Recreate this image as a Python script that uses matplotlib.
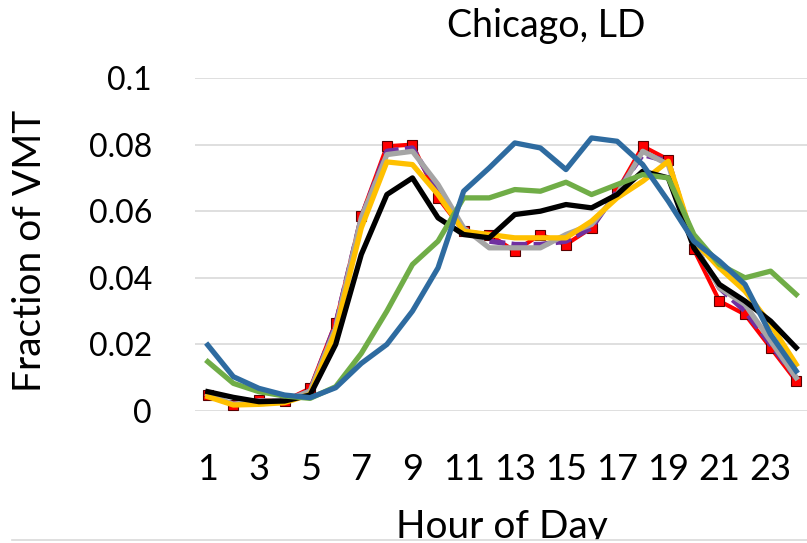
import matplotlib
matplotlib.use('Agg')
import matplotlib.pyplot as plt
from matplotlib.lines import Line2D
from matplotlib.patches import Rectangle

plt.rcParams['font.family'] = ['Lato', 'DejaVu Sans']

hours = list(range(1, 25))
xtick_labels = [str(h) for h in range(1, 24, 2)]
yticks = [0, 0.02, 0.04, 0.06, 0.08, 0.1]
ytick_labels = ['0', '0.02', '0.04', '0.06', '0.08', '0.1']

# fraction of VMT per hour
red = [0.0048, 0.0018, 0.0033, 0.003, 0.0068, 0.0265, 0.0585, 0.0795, 0.080, 0.064, 0.054, 0.053,
       0.048, 0.053, 0.050, 0.055, 0.066, 0.0795, 0.0755, 0.0485, 0.033, 0.029, 0.019, 0.009]
purple = [0.005, 0.002, 0.003, 0.003, 0.006, 0.026, 0.058, 0.078, 0.079, 0.066, 0.054, 0.051,
          0.050, 0.050, 0.051, 0.055, 0.066, 0.077, 0.075, 0.050, 0.037, 0.030, 0.020, 0.010]
gray = [0.005, 0.002, 0.003, 0.003, 0.006, 0.025, 0.058, 0.077, 0.078, 0.068, 0.055, 0.049,
        0.049, 0.049, 0.053, 0.056, 0.065, 0.078, 0.074, 0.050, 0.037, 0.032, 0.021, 0.010]
yellow = [0.0043, 0.0018, 0.002, 0.0025, 0.005, 0.024, 0.055, 0.0748, 0.074, 0.065, 0.054, 0.053,
          0.052, 0.052, 0.052, 0.057, 0.064, 0.069, 0.075, 0.051, 0.043, 0.036, 0.026, 0.014]
black = [0.0058, 0.0041, 0.0028, 0.003, 0.0048, 0.020, 0.047, 0.065, 0.070, 0.058, 0.053, 0.052,
         0.059, 0.060, 0.062, 0.061, 0.065, 0.072, 0.070, 0.049, 0.038, 0.033, 0.027, 0.019]
green = [0.0148, 0.0083, 0.0058, 0.0045, 0.0038, 0.0073, 0.0173, 0.030, 0.044, 0.051, 0.064, 0.064,
         0.0665, 0.066, 0.0687, 0.065, 0.068, 0.071, 0.070, 0.053, 0.044, 0.040, 0.042, 0.035]
blue = [0.0198, 0.0103, 0.0068, 0.0048, 0.004, 0.0070, 0.0143, 0.020, 0.030, 0.043, 0.066, 0.073,
        0.0805, 0.079, 0.0725, 0.082, 0.081, 0.074, 0.063, 0.051, 0.045, 0.038, 0.023, 0.012]

W, H = 807, 543
fig = plt.figure(figsize=(W / 100, H / 100), dpi=100)
ax = fig.add_axes([195 / W, 1 - 411 / H, 614 / W, 333 / H])

ax.plot(hours, red, color='#FF0000', lw=3.0, marker='s', ms=6.5,
        markerfacecolor='#FF0000', markeredgecolor='#5a0000', markeredgewidth=0.8, zorder=3)
ax.plot(hours, purple, color='#7030A0', lw=3.8, ls=(0, (3, 1.2)), zorder=4)
ax.plot(hours, gray, color='#A5A5A5', lw=3.8, zorder=5)
ax.plot(hours, yellow, color='#FFC000', lw=3.8, zorder=6)
ax.plot(hours, black, color='#000000', lw=3.8, zorder=7)
ax.plot(hours, green, color='#70AD47', lw=3.8, zorder=8)
ax.plot(hours, blue, color='#2E6BA0', lw=3.8, zorder=9)

ax.set_xlim(0.5, 24.5)
ax.set_ylim(0, 0.1)
ax.set_xticks(list(range(1, 24, 2)))
ax.set_xticklabels(xtick_labels)
ax.set_yticks(yticks)
ax.set_yticklabels(ytick_labels)
ax.tick_params(axis='both', length=0)
ax.tick_params(axis='y', pad=31, labelsize=23)
ax.tick_params(axis='x', pad=30, labelsize=26)
ax.grid(axis='y', color='#D9D9D9', lw=1.2, zorder=0)
for s in ax.spines.values():
    s.set_visible(False)
ax.set_axisbelow(True)

fig.text(546 / W, 1 - 26 / H, 'Chicago, LD', fontsize=27, ha='center', va='center')
fig.text(30 / W, 1 - 251 / H, 'Fraction of VMT', fontsize=28, rotation=90, ha='center', va='center')
fig.text(502 / W, 1 - 509 / H, 'Hour of Day', fontsize=28, ha='center', va='top')

# chart frame edge cutting the axis title, as in the screenshot
fig.patches.append(Rectangle((0, 0), 1, 3 / H, transform=fig.transFigure,
                             facecolor='white', edgecolor='none', zorder=10))
fig.lines.append(Line2D([12 / W, 1], [3 / H, 3 / H], transform=fig.transFigure,
                        color='#D9D9D9', lw=1.2, zorder=11))

fig.savefig('out.png', dpi=100)
